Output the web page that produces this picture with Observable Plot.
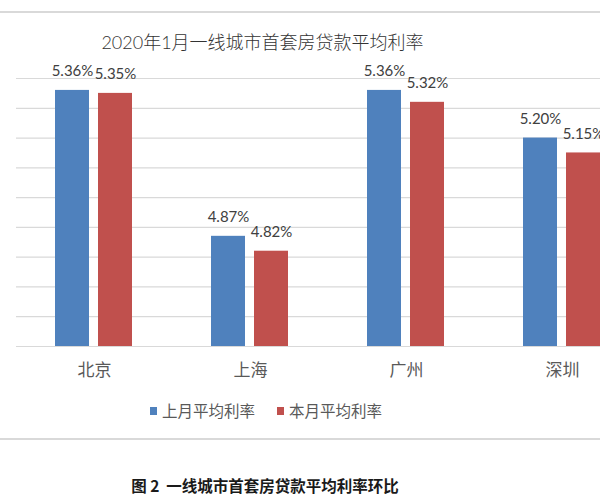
<!DOCTYPE html>
<html>
<head>
<meta charset="utf-8">
<script src="https://cdn.jsdelivr.net/npm/d3@7"></script>
<script src="https://cdn.jsdelivr.net/npm/@observablehq/plot@0.6"></script>
<style>
  html, body { margin: 0; padding: 0; background: #fff; }
  #wrap { position: relative; width: 600px; height: 500px; overflow: hidden; background: #fff;
    font-family: "Lato", "Noto Sans CJK SC", sans-serif; }
  #chart { position: absolute; left: 0; top: 0; width: 640px; }
  #chart svg { max-width: none !important; width: 640px; height: 380px; }
  .hline { position: absolute; left: 0; width: 600px; height: 2px; background: #d9d9d9; }
  #title { position: absolute; left: 0; width: 525px; top: 30px; text-align: center;
    font-size: 18px; line-height: 24px; color: #333; font-weight: 300; white-space: nowrap; }
  #legend { position: absolute; top: 400px; left: 0; height: 22px; }
  .lg { position: absolute; top: 0; white-space: nowrap; font-size: 15.5px; line-height: 22px; color: #595959; }
  .sw { position: absolute; width: 7px; height: 8px; top: 7px; }
  #caption { position: absolute; left: 0; width: 530px; top: 473px; text-align: center;
    font-size: 15.5px; line-height: 24px; color: #1a1a1a; font-weight: bold; white-space: pre;
    font-family: "Noto Sans CJK SC", sans-serif; }
</style>
</head>
<body>
<div id="wrap">
  <div class="hline" style="top:11px"></div>
  <div id="chart"></div>
  <div id="title"></div>
  <div id="legend"></div>
  <div class="hline" style="top:438px"></div>
  <div id="caption"></div>
</div>
<script>
const titleText = "2020年1月一线城市首套房贷款平均利率";
const captionText = "图 2  一线城市首套房贷款平均利率环比";
const cities = ["北京", "上海", "广州", "深圳"];
const seriesNames = ["上月平均利率", "本月平均利率"];
const lastMonth = [5.36, 4.87, 5.36, 5.20];
const thisMonth = [5.35, 4.82, 5.32, 5.15];
const seriesColors = ["#4f81bd", "#c0504d"];
const gridValues = [4.5, 4.6, 4.7, 4.8, 4.9, 5.0, 5.1, 5.2, 5.3, 5.4];
const yMin = 4.5, yMax = 5.4;

const data = [];
cities.forEach((c, i) => {
  data.push({city: c, series: seriesNames[0], value: lastMonth[i]});
  data.push({city: c, series: seriesNames[1], value: thisMonth[i]});
});

document.getElementById("title").textContent = titleText;
document.getElementById("caption").textContent = captionText;

const legend = document.getElementById("legend");
const legendPos = [150, 277];
seriesNames.forEach((s, i) => {
  const sw = document.createElement("div");
  sw.className = "sw";
  sw.style.left = legendPos[i] + "px";
  sw.style.background = seriesColors[i];
  legend.appendChild(sw);
  const t = document.createElement("div");
  t.className = "lg";
  t.style.left = (legendPos[i] + 12) + "px";
  t.textContent = s;
  legend.appendChild(t);
});

const plot = Plot.plot({
  width: 640,
  height: 380,
  marginTop: 78,
  marginBottom: 34,
  marginLeft: 16,
  marginRight: 0,
  style: {fontFamily: "Lato, 'Noto Sans CJK SC', sans-serif", background: "transparent", maxWidth: "none"},
  fx: {domain: cities, padding: 0, label: null},
  x: {domain: seriesNames, paddingInner: 0.2, paddingOuter: 0.875, axis: null},
  y: {domain: [yMin, yMax], axis: null},
  color: {domain: seriesNames, range: seriesColors},
  marks: [
    Plot.ruleY(gridValues, {stroke: "#d9d9d9", strokeWidth: 1.2}),
    Plot.barY(data, {fx: "city", x: "series", y1: () => yMin, y2: "value", fill: "series"}),
    Plot.text(data, {fx: "city", x: "series", y: "value", text: d => d.value.toFixed(2) + "%",
      lineAnchor: "bottom", dy: -14, fontSize: 15, fill: "#404040"}),
    Plot.axisFx({anchor: "bottom", tickSize: 0, tickPadding: 17, fontSize: 17, fill: "#595959", label: null,
      fontFamily: "'Noto Sans CJK SC', sans-serif"})
  ]
});
document.getElementById("chart").appendChild(plot);
</script>
</body>
</html>
